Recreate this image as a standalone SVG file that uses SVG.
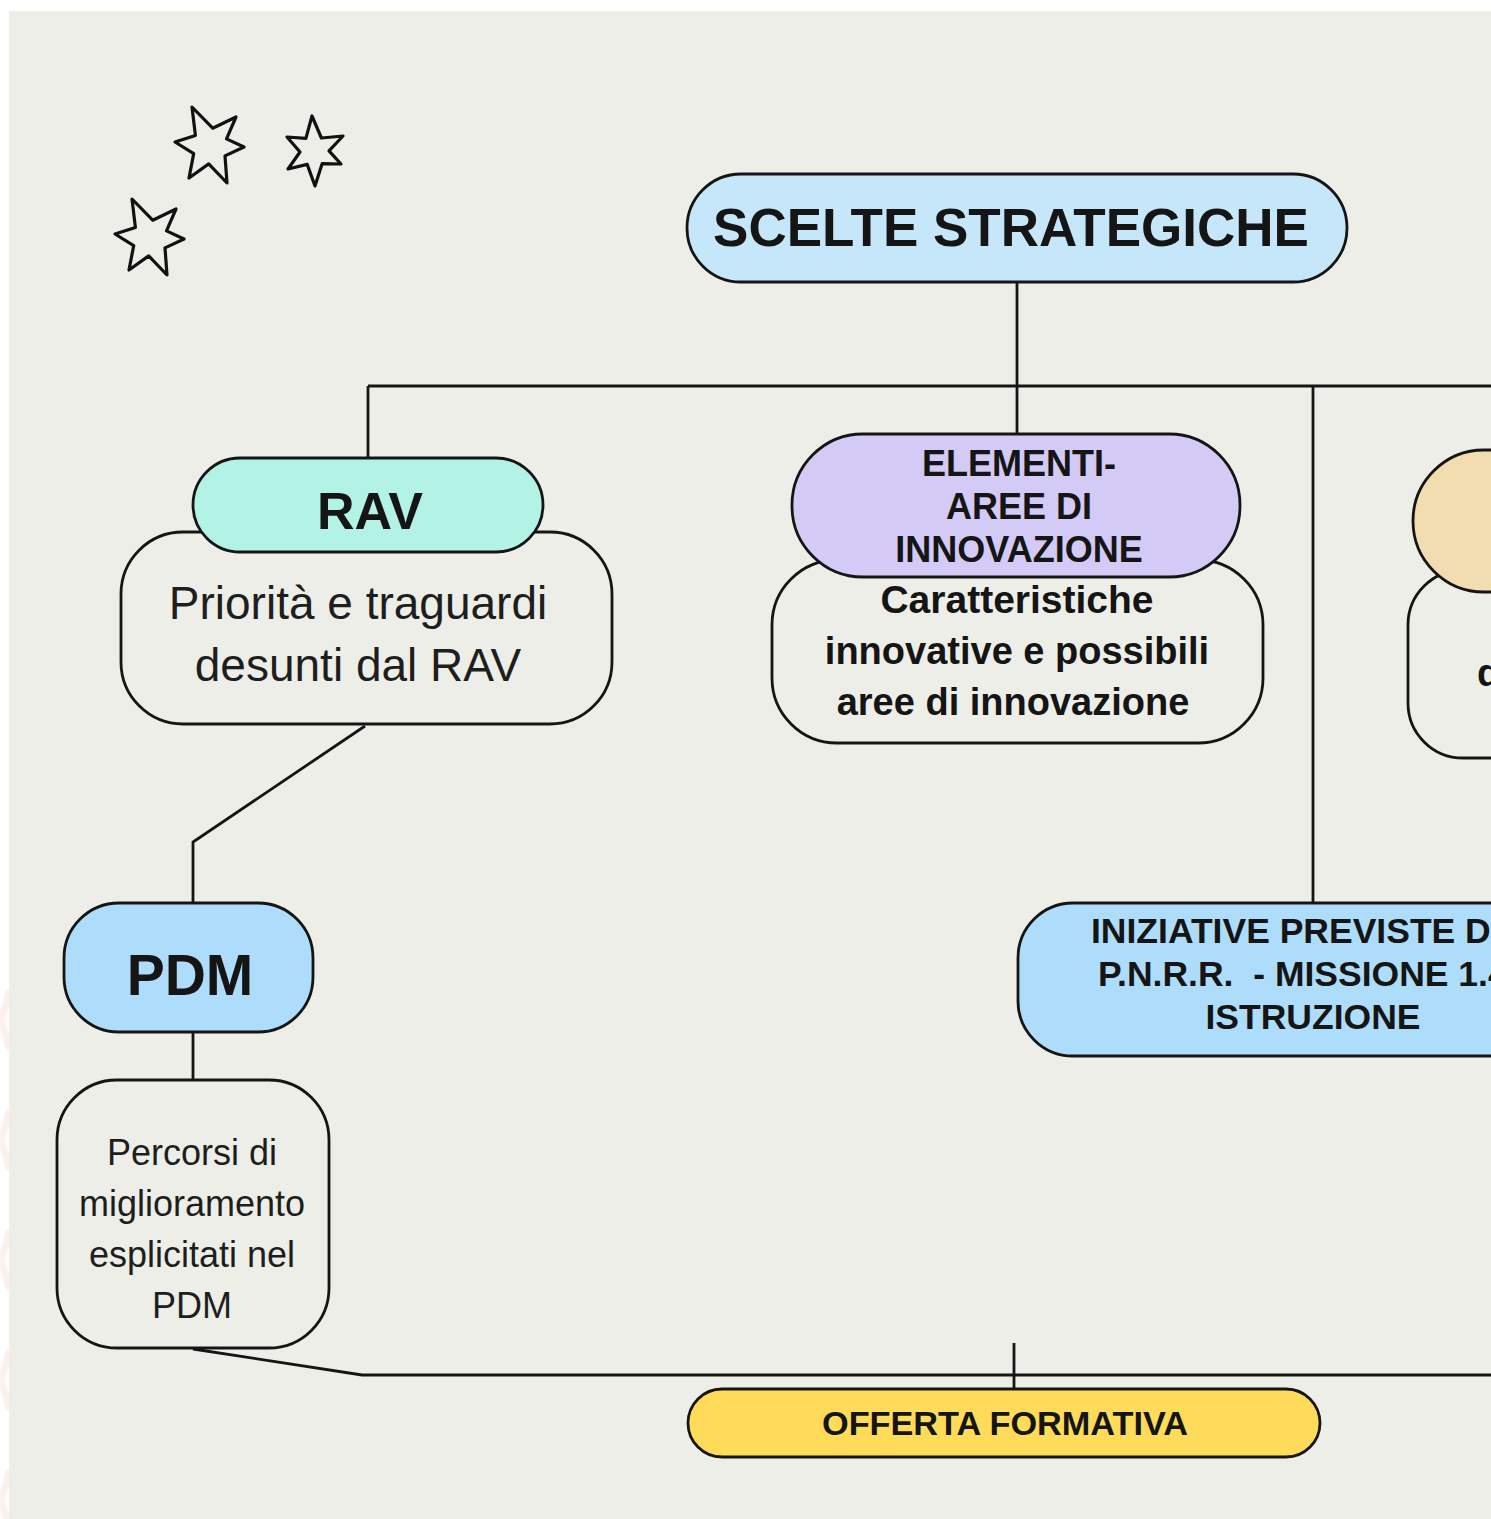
<svg xmlns="http://www.w3.org/2000/svg" width="1491" height="1519" viewBox="0 0 1491 1519">
<style>
.box{stroke:#151515;stroke-width:2.8}
.conn{fill:none;stroke:#151515;stroke-width:2.8}
.h{font-family:"Liberation Sans",Arial,sans-serif;font-weight:bold;fill:#151515;text-anchor:middle}
.b{font-family:"Liberation Sans",Arial,sans-serif;fill:#1e1e1e;text-anchor:middle}
.star{fill:none;stroke:#111;stroke-width:3.2;stroke-linejoin:round}
.chev{fill:none;stroke:#FDF1EC;stroke-width:7}
</style>
<defs>
<path id="star6" d="M-18,-39 L2.7,-17.8 L26,-29 L16.5,-7.1 L34,1 L15,9.9 L17,37 L-1.3,17.9 L-21,32 L-16.3,7.6 L-35,-4 L-14.6,-10.6 Z"/>
<path id="star6b" d="M-2,-35 L7.4,-13 L29,-15 L15,-0.2 L27,13 L8.2,12.6 L1,35 L-6.8,13.4 L-26,18 L-14,1 L-27,-14 L-8.1,-12.6 Z"/>
<clipPath id="strip"><rect x="0" y="0" width="9" height="1519"/></clipPath>
</defs>
<rect x="0" y="0" width="1491" height="1519" fill="#FFFFFF"/>
<rect x="9" y="11" width="1482" height="1508" fill="#EEEEE8"/>
<g clip-path="url(#strip)">
<path class="chev" d="M10,990 L1,1020 L10,1050 M10,1110 L1,1140 L10,1170 M10,1230 L1,1260 L10,1290 M10,1350 L1,1380 L10,1410 M10,1470 L1,1500 L10,1530"/>
</g>
<g id="stars">
<use href="#star6" class="star" transform="translate(210,146)"/>
<use href="#star6b" class="star" transform="translate(314,151)"/>
<use href="#star6" class="star" transform="translate(150,238)"/>
</g>
<g id="connectors">
<path class="conn" d="M1017,282 V386"/>
<path class="conn" d="M368,386 H1495"/>
<path class="conn" d="M368,386 V458"/>
<path class="conn" d="M1017,386 V434"/>
<path class="conn" d="M1313,386 V903"/>
<path class="conn" d="M365,726 L193,842 V903"/>
<path class="conn" d="M193,1032 V1080"/>
<path class="conn" d="M193,1349 L362,1375 H1495"/>
<path class="conn" d="M1014,1343 V1389"/>
</g>
<g id="scelte">
<rect class="box" x="687" y="174" width="660" height="108" rx="54" fill="#C6E6FA"/>
<text class="h" x="1011" y="246" font-size="53">SCELTE STRATEGICHE</text>
</g>
<g id="rav-body">
<rect class="box" x="121" y="532" width="491" height="192" rx="62" fill="#EEEEE8"/>
<text class="b" x="358" y="619" font-size="46">Priorità e traguardi</text>
<text class="b" x="358" y="681" font-size="46">desunti dal RAV</text>
</g>
<g id="rav">
<rect class="box" x="193" y="458" width="350" height="94" rx="47" fill="#B3F3E6"/>
<text class="h" x="370" y="529" font-size="52">RAV</text>
</g>
<g id="elementi-body">
<rect class="box" x="772" y="560" width="491" height="183" rx="65" fill="#EEEEE8"/>
<text class="h" x="1017" y="613" font-size="39">Caratteristiche</text>
<text class="h" x="1017" y="664" font-size="38">innovative e possibili</text>
<text class="h" x="1013" y="715" font-size="38">aree di innovazione</text>
</g>
<g id="elementi">
<rect class="box" x="792" y="434" width="448" height="143" rx="71" fill="#D3CAF6"/>
<text class="h" x="1019" y="476" font-size="36">ELEMENTI-</text>
<text class="h" x="1019" y="519" font-size="36">AREE DI</text>
<text class="h" x="1019" y="562" font-size="36">INNOVAZIONE</text>
</g>
<g id="third-body">
<rect class="box" x="1408" y="570" width="200" height="188" rx="55" fill="#EEEEE8"/>
<text class="h" x="1477" y="686" font-size="38" style="text-anchor:start">d</text>
</g>
<g id="third">
<rect class="box" x="1413" y="450" width="200" height="142" rx="71" fill="#F2DDB1"/>
</g>
<g id="pdm">
<rect class="box" x="64" y="903" width="249" height="129" rx="55" fill="#AEDDFC"/>
<text class="h" x="190" y="995" font-size="57">PDM</text>
</g>
<g id="pdm-body">
<rect class="box" x="57" y="1080" width="272" height="268" rx="60" fill="#EEEEE8"/>
<text class="b" x="192" y="1165" font-size="36">Percorsi di</text>
<text class="b" x="192" y="1216" font-size="36">miglioramento</text>
<text class="b" x="192" y="1267" font-size="36">esplicitati nel</text>
<text class="b" x="192" y="1318" font-size="36">PDM</text>
</g>
<g id="iniziative">
<rect class="box" x="1018" y="903" width="600" height="153" rx="55" fill="#AEDDFC"/>
<text class="h" x="1091" y="943" font-size="35.5" style="text-anchor:start">INIZIATIVE PREVISTE D</text>
<text class="h" x="1098" y="986" font-size="35.5" style="text-anchor:start" xml:space="preserve">P.N.R.R.  - MISSIONE 1.4</text>
<text class="h" x="1313" y="1029" font-size="35.5">ISTRUZIONE</text>
</g>
<g id="offerta">
<rect class="box" x="688" y="1389" width="632" height="68" rx="34" fill="#FEDC5A"/>
<text class="h" x="1005" y="1435" font-size="34" textLength="366" lengthAdjust="spacingAndGlyphs">OFFERTA FORMATIVA</text>
</g>
</svg>
